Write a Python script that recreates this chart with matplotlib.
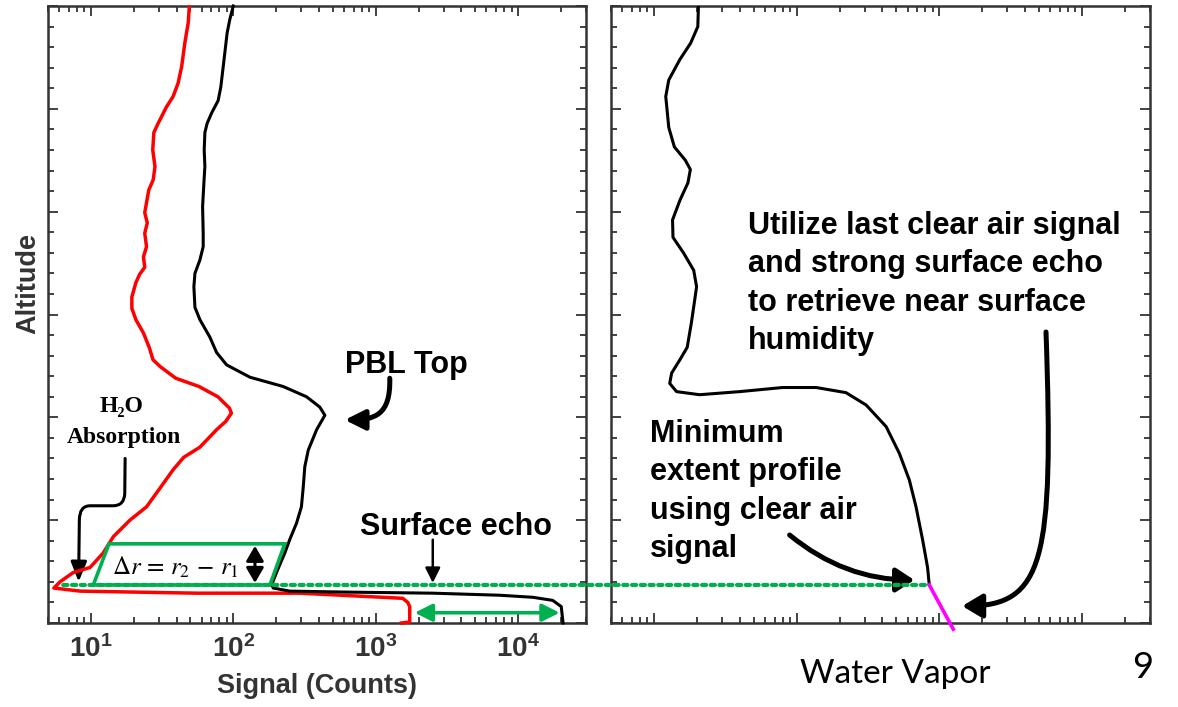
import numpy as np
import matplotlib
matplotlib.use("Agg")
import matplotlib.pyplot as plt
from matplotlib.patches import FancyArrowPatch, ConnectionPatch, Polygon
from matplotlib.path import Path
from matplotlib.ticker import LogLocator, MultipleLocator, FuncFormatter, NullFormatter

plt.rcParams['font.family'] = ['Liberation Sans', 'DejaVu Sans']
plt.rcParams['mathtext.fontset'] = 'custom'
plt.rcParams['mathtext.rm'] = 'Liberation Sans:bold'
plt.rcParams['mathtext.it'] = 'Liberation Sans:bold'
plt.rcParams['mathtext.bf'] = 'Liberation Sans:bold'

# ---- offline (black) lidar return ----
off_signal = [100, 94.6, 90.6, 85, 81.7, 78.3, 70.5, 65.6, 63.2, 62.5,
              63.2, 62.2, 60.9, 61.5, 61.5, 58.3, 53.8, 52.9, 53.8, 58.3,
              68.5, 76.4, 89.8, 131, 224, 327, 405, 440, 385, 336,
              318, 310, 301, 278, 249, 230, 201, 186, 191, 249,
              658, 2518, 7430, 12700, 17500, 20100, 20700]
off_alt = [6.00, 5.87, 5.74, 5.41, 5.21, 5.08, 4.96, 4.86, 4.77, 4.60,
           4.44, 4.28, 4.05, 3.79, 3.66, 3.53, 3.40, 3.27, 3.07, 2.95,
           2.78, 2.63, 2.51, 2.39, 2.30, 2.20, 2.10, 2.02, 1.88, 1.68,
           1.52, 1.32, 1.13, 0.97, 0.81, 0.68, 0.49, 0.37, 0.34, 0.31,
           0.30, 0.29, 0.27, 0.25, 0.22, 0.16, 0.0]

# ---- online (red) lidar return ----
on_signal = [49.1, 48.3, 45.7, 43.4, 41.0, 37.8, 34.0, 29.7, 27.7, 27.2,
             28.2, 27.4, 25.5, 23.9, 24.9, 23.9, 24.6, 23.4, 23.9, 22.0,
             20.7, 19.4, 19.4, 20.7, 23.4, 25.7, 27.3, 30.9, 39.5, 57.4,
             78.0, 94.0, 97.0, 88.5, 76.4, 58.3, 44.8, 37.8, 30.9, 24.6,
             18.8, 14.4, 12.2, 9.86, 7.5, 6.07, 5.5, 8.4, 55.3, 293,
             1122, 1549, 1680, 1734, 1734, 1517]
on_alt = [5.99, 5.84, 5.64, 5.41, 5.25, 5.12, 5.02, 4.86, 4.77, 4.60,
          4.44, 4.31, 4.21, 3.99, 3.89, 3.79, 3.66, 3.56, 3.46, 3.39,
          3.31, 3.17, 3.06, 2.95, 2.82, 2.68, 2.56, 2.49, 2.38, 2.30,
          2.20, 2.09, 2.04, 1.96, 1.88, 1.71, 1.61, 1.49, 1.32, 1.13,
          1.00, 0.84, 0.68, 0.54, 0.49, 0.40, 0.34, 0.31, 0.29, 0.29,
          0.25, 0.24, 0.20, 0.16, 0.01, 0.0]

# ---- retrieved water vapour profile ----
wv_value = [20.5, 20.3, 18.1, 15.2, 12.7, 12.1, 12.7, 13.9, 16.6, 18.0,
            17.3, 15.2, 13.5, 13.6, 16.1, 19.0, 19.9, 19.3, 18.3, 17.1,
            15.2, 13.3, 12.9, 14.4, 20.9, 39.9, 79.8, 137, 222, 307,
            424, 525, 617, 687, 764, 828, 851]
wv_alt = [6.00, 5.80, 5.64, 5.48, 5.28, 5.12, 4.82, 4.63, 4.50, 4.41,
          4.28, 4.11, 3.92, 3.75, 3.60, 3.43, 3.27, 3.14, 2.92, 2.68,
          2.56, 2.43, 2.33, 2.25, 2.22, 2.25, 2.29, 2.29, 2.24, 2.12,
          1.91, 1.65, 1.39, 1.13, 0.81, 0.54, 0.37]
# near-surface extension using the surface echo
ext_value = [851, 1253]
ext_alt = [0.37, -0.06]

surface_alt = 0.37
# range-gate box (delta r) on the signal panel
box_signal = [10.4, 13.4, 230, 181]
box_alt = [0.37, 0.77, 0.77, 0.37]
# surface-echo span
echo_span = [1880, 19600]
echo_alt = 0.10

xlim = (5, 3e4)
ylim = (0, 6)

GREEN = '#00b050'
DARK = '#333333'

fig = plt.figure(figsize=(11.78, 7.07), dpi=100)
ax1 = fig.add_axes([48 / 1178, 84 / 707, 538 / 1178, 617 / 707])
ax2 = fig.add_axes([611 / 1178, 84 / 707, 539 / 1178, 617 / 707])


def style(ax):
    ax.set_xscale('log')
    ax.set_xlim(*xlim)
    ax.set_ylim(*ylim)
    ax.yaxis.set_major_locator(MultipleLocator(1))
    ax.yaxis.set_minor_locator(MultipleLocator(0.2))
    ax.xaxis.set_major_locator(LogLocator(base=10, numticks=10))
    ax.xaxis.set_minor_locator(LogLocator(base=10, subs=np.arange(2, 10), numticks=20))
    ax.yaxis.set_major_formatter(NullFormatter())
    ax.tick_params(which='both', direction='in', top=True, right=True,
                   color=DARK, width=1.3)
    ax.tick_params(which='major', length=7)
    ax.tick_params(which='minor', length=4)
    for s in ax.spines.values():
        s.set_linewidth(1.8)
        s.set_color(DARK)


style(ax1)
style(ax2)

ax1.xaxis.set_major_formatter(FuncFormatter(lambda v, p: r'$\mathbf{10^{%d}}$' % round(np.log10(v))))
ax1.xaxis.set_minor_formatter(NullFormatter())
ax1.tick_params(axis='x', which='major', labelsize=20, labelcolor=DARK, pad=9)
ax2.xaxis.set_major_formatter(NullFormatter())
ax2.xaxis.set_minor_formatter(NullFormatter())

ax1.set_xlabel('Signal (Counts)', fontsize=19.5, fontweight='bold', color=DARK)
ax1.xaxis.set_label_coords(0.5, -0.081)
ax1.set_ylabel('Altitude', fontsize=19.5, fontweight='bold', color=DARK)
ax1.yaxis.set_label_coords(-0.012, 0.551)

# signal profiles
ax1.plot(on_signal, on_alt, color='red', lw=2.5, clip_on=False, zorder=3)
ax1.plot(off_signal, off_alt, color='black', lw=2.2, clip_on=False, zorder=3)

# delta-r box and its height arrow
ax1.add_patch(Polygon(list(zip(box_signal, box_alt)), closed=True, fill=False,
                      edgecolor=GREEN, lw=2.6, zorder=4))
ax1.annotate('', xy=(142, 0.39), xytext=(142, 0.75),
             arrowprops=dict(arrowstyle='<|-|>,head_length=0.6,head_width=0.35',
                             color='black', lw=2.2, mutation_scale=15, shrinkA=0, shrinkB=0))
ax1.text(39.5, 0.47, r'$\Delta r\,=\,r_2\,-\,r_1$', fontsize=18, math_fontfamily='stix',
         ha='center', va='baseline')

# surface echo span
ax1.annotate('', xy=(echo_span[1], echo_alt), xytext=(echo_span[0], echo_alt),
             arrowprops=dict(arrowstyle='<|-|>,head_length=0.7,head_width=0.35',
                             color=GREEN, lw=2.6, mutation_scale=15, shrinkA=0, shrinkB=0))
ax1.text(0.7584, 0.1426, 'Surface echo', transform=ax1.transAxes, fontsize=22,
         fontweight='bold', ha='center', va='baseline')
ax1.annotate('', xy=(2518, 0.39), xytext=(2518, 0.81),
             arrowprops=dict(arrowstyle='-|>,head_length=0.6,head_width=0.3',
                             color='black', lw=1.8, mutation_scale=15, shrinkA=0, shrinkB=0))

# PBL top
ax1.text(0.6654, 0.405, 'PBL Top', transform=ax1.transAxes, fontsize=22,
         fontweight='bold', ha='center', va='baseline')
pbl_path = Path([(1256, 2.38), (1277, 2.02), (986, 1.975), (607, 1.975)],
                [Path.MOVETO, Path.CURVE4, Path.CURVE4, Path.CURVE4])
ax1.add_patch(FancyArrowPatch(path=pbl_path, transform=ax1.transData,
                              arrowstyle='-|>,head_length=0.8,head_width=0.4',
                              mutation_scale=15, lw=3.6, color='black'))

# H2O absorption
serif = ['Liberation Serif', 'DejaVu Serif']
ax1.text(0.1375, 0.342, 'H\u2082O', transform=ax1.transAxes, fontsize=17,
         fontweight='bold', family=serif, ha='center', va='baseline')
ax1.text(0.1403, 0.2917, 'Absorption', transform=ax1.transAxes, fontsize=17,
         fontweight='bold', family=serif, ha='center', va='baseline')
h2o_path = Path([(17.4, 1.60), (17.3, 1.26), (17.2, 1.14), (14.3, 1.14),
                 (9.9, 1.14), (8.3, 1.14), (8.3, 1.0), (8.2, 0.40)],
                [Path.MOVETO, Path.LINETO, Path.CURVE3, Path.CURVE3,
                 Path.LINETO, Path.CURVE3, Path.CURVE3, Path.LINETO])
ax1.add_patch(FancyArrowPatch(path=h2o_path, transform=ax1.transData,
                              arrowstyle='-|>,head_length=0.8,head_width=0.32',
                              mutation_scale=15, lw=2.2, color='black'))

# water vapour panel
ax2.plot(wv_value, wv_alt, color='black', lw=2.2, zorder=3)
ax2.plot(ext_value, ext_alt, color='#ff00ff', lw=2.6, clip_on=False, zorder=3)

line_step = 38.5 / 617
for i, s in enumerate(['Utilize last clear air signal', 'and strong surface echo',
                       'to retrieve near surface', 'humidity']):
    ax2.text(0.2542, 0.6311 - i * line_step, s, transform=ax2.transAxes, fontsize=22,
             fontweight='bold', ha='left', va='baseline')
for i, s in enumerate(['Minimum', 'extent profile', 'using clear air', 'signal']):
    ax2.text(0.0724, 0.2938 - i * line_step, s, transform=ax2.transAxes, fontsize=22,
             fontweight='bold', ha='left', va='baseline')

min_path = Path([(89.3, 0.856), (216, 0.418), (668, 0.418)],
                [Path.MOVETO, Path.CURVE3, Path.CURVE3])
ax2.add_patch(FancyArrowPatch(path=min_path, transform=ax2.transData,
                              arrowstyle='-|>,head_length=0.73,head_width=0.48',
                              mutation_scale=15, lw=3.6, color='black'))
use_path = Path([(5600, 2.83), (6370, 0.61), (5420, 0.165), (1448, 0.165)],
                [Path.MOVETO, Path.CURVE4, Path.CURVE4, Path.CURVE4])
ax2.add_patch(FancyArrowPatch(path=use_path, transform=ax2.transData,
                              arrowstyle='-|>,head_length=0.8,head_width=0.48',
                              mutation_scale=15, lw=3.6, color='black'))

# surface level carried across both panels
con = ConnectionPatch(xyA=(6.4, surface_alt), coordsA=ax1.transData,
                      xyB=(wv_value[-1], surface_alt), coordsB=ax2.transData,
                      color=GREEN, lw=3.0, linestyle=(0, (1.0, 1.1)))
fig.add_artist(con)

fig.text(895 / 1178, (707 - 683) / 707, 'Water Vapor', fontsize=24, family=['Lato', 'DejaVu Sans'],
         ha='center', va='baseline')
fig.text(1143 / 1178, (707 - 678) / 707, '9', fontsize=26, family=['Lato', 'DejaVu Sans'],
         ha='center', va='baseline')

fig.savefig('out.png', dpi=100, facecolor='white')
